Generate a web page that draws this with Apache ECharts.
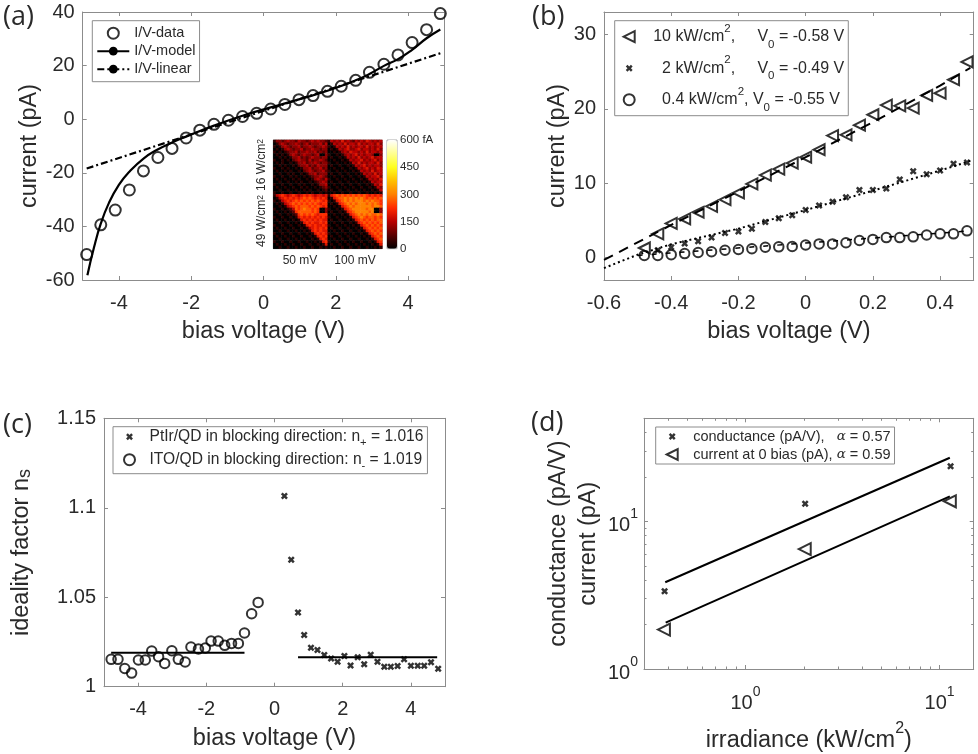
<!DOCTYPE html>
<html><head><meta charset="utf-8">
<style>html,body{margin:0;padding:0;background:#fff}#c{width:978px;height:754px}</style>
<script src="https://cdn.jsdelivr.net/npm/echarts@6/dist/echarts.min.js"></script>
</head><body><div id="c"></div>
<script>
// ---------- panel (a) ----------
const aDataV=[-4.89,-4.50,-4.10,-3.71,-3.32,-2.92,-2.53,-2.14,-1.76,-1.37,-0.97,-0.58,-0.19,0.20,0.59,0.98,1.37,1.77,2.15,2.55,2.93,3.33,3.72,4.11,4.51,4.89];
const aDataI=[-50.5,-39.4,-33.9,-26.4,-19.3,-14.3,-10.9,-7.0,-4.1,-1.9,-0.4,1.0,2.2,3.8,5.5,7.3,8.8,10.4,12.3,14.5,17.5,20.5,24.0,28.6,33.4,39.4];
const aModelV=[-4.87,-4.69,-4.50,-4.28,-4.0,-3.71,-3.31,-2.94,-2.53,-2.14,-1.37,-0.58,0.2,0.98,1.77,2.55,2.93,3.33,3.72,4.11,4.51,4.89];
const aModelI=[-58.2,-48,-39,-31.4,-24.5,-19.6,-14.6,-11.4,-8.7,-6.5,-2.4,1.3,4.4,7.4,10.6,14.5,16.9,19.9,22.4,25.9,30.2,33.5];
const aLinearV=[-4.89,4.89];
const aLinearI=[-18.4,24.6];
// ---------- inset of (a): levels of photocurrent, one char per cell ----------
const levelStep=38;
const insetTL=["13323433243323434332","01343233432342333424","10134323342334323343","01013432334233433233","10101233423343342323","01010134323433234003","00101013342323433233","10010102343324233432","01010010133423343233","00101001023342324333","10010100101334233423","01001010010234323342","00100101001013342333","10010010100101233432","01001001010010134324","00100100101001012343","10010010010100101334","01001001001010010123","00100100100101001012","10010010010010100101"];
const insetTR=["14343534324343543434","01434353443534344353","10143435343443534344","01014345334534434353","00101343544343534434","10010134345343443003","01001014343534345344","00100101434453434534","10010010143534344353","01001001014345343443","00100100101434534354","10010010010143435344","01001001001014343534","00100100100101434453","10010010010010143435","01001001001001014344","00100100100100101435","10010010010010010143","01001001001001001014","00100100100100100101"];
const insetBL=["14565456545656545545","01456565656767656565","10145656767676767656","01014567676767676566","00101456767776767656","10010124767877676003","01001012677777676003","00100101267676765666","10010010156565656565","01001001015656565655","00100100101565655656","10010010010156565565","01001001001014565656","00100100100101565655","10010010010010156565","01001001001001015656","00100100100100101565","10010010010010010156","01001001001001001015","00100100100100100101"];
const insetBR=["15676767676767656565","01567787878787676767","10156787878887878776","01015678787888787876","00101567878888887887","10010156788888788003","01001015678888878003","00100101567878787787","10010010156787677676","01001001015676767677","00100100101567676767","10010010010156767676","01001001001015676767","00100100100101567676","10010010010010156767","01001001001001015676","00100100100100101567","10010010010010010156","01001001001001001015","00100100100100100101"];
const barTicks=['600 fA','450','300','150','0'];
// ---------- panel (b) ----------
const bV=[-0.48,-0.44,-0.40,-0.36,-0.32,-0.28,-0.24,-0.20,-0.16,-0.12,-0.08,-0.04,0,0.04,0.08,0.12,0.16,0.20,0.24,0.28,0.32,0.36,0.40,0.44,0.48];
const b10=[1.3,3.2,4.6,5.2,6.1,6.9,7.8,8.7,9.9,11.1,11.9,12.7,13.5,14.5,16.4,16.5,17.8,19.2,20.5,20.4,20.1,21.8,22.1,23.9,26.3];
const b2=[0.7,1.0,1.4,1.9,2.2,2.7,3.3,3.5,3.9,4.8,5.3,5.7,6.4,7.0,7.5,8.1,9.1,9.1,9.3,10.5,11.6,11.2,11.7,12.6,12.8];
const b04=[0.3,0.3,0.4,0.55,0.7,0.8,1.0,1.1,1.2,1.4,1.45,1.5,1.7,1.85,1.85,2.0,2.3,2.45,2.7,2.7,2.8,3.05,3.2,3.2,3.6];
const bFit10V=[-0.6,-0.4,-0.2,0,0.2,0.4,0.49];
const bFit10I=[-0.3,4.4,8.9,13.5,18.2,23.1,25.5];
const bFit2V=[-0.6,-0.5,-0.4,-0.2,0,0.2,0.4,0.49];
const bFit2I=[-1.4,0.4,1.8,3.9,6.4,9,11.7,13];
const bFit04V=[-0.5,0.49];
const bFit04I=[0.3,3.6];
// ---------- panel (c) ----------
const cNegV=[-4.79,-4.59,-4.39,-4.19,-3.99,-3.79,-3.6,-3.40,-3.22,-3.01,-2.82,-2.62,-2.45,-2.23,-2.03,-1.86,-1.65,-1.46,-1.26,-1.06,-0.88,-0.67,-0.48];
const cNegN=[1.0153,1.0153,1.0102,1.0076,1.0149,1.0149,1.0199,1.0168,1.0130,1.0201,1.0153,1.0138,1.0222,1.0211,1.0216,1.0255,1.0255,1.0231,1.0242,1.0242,1.0300,1.0408,1.0471];
const cPosV=[0.29,0.49,0.69,0.87,1.07,1.26,1.46,1.66,1.85,2.05,2.23,2.44,2.63,2.82,3.02,3.22,3.41,3.61,3.80,4.0,4.2,4.39,4.59,4.8];
const cPosN=[1.1066,1.071,1.0415,1.0289,1.0218,1.0205,1.0177,1.0158,1.014,1.0171,1.0119,1.0164,1.0125,1.0179,1.014,1.0112,1.0112,1.0115,1.0153,1.0117,1.0117,1.0117,1.0136,1.0101];
const cNegFitV=[-4.79,-0.88], cNegFitN=[1.019,1.019];
const cPosFitV=[0.69,4.77], cPosFitN=[1.0164,1.0164];
// ---------- panel (d) ----------
const dIrr=[0.383,2.03,11.4];
const dCond=[3.37,13.2,23.7];
const dIrrT=[0.38,2.02,11.3];
const dCurr=[1.85,6.5,13.7];
const dFit1X=[0.386,11.3], dFit1Y=[3.87,27];
const dFit2X=[0.388,11.3], dFit2Y=[2.06,14.8];

// ---------- helpers ----------
const zip=(a,b)=>a.map((v,i)=>[v,b[i]]);
const FONT='"Liberation Sans",Arial,sans-serif';
const INK='#2a2a2a', FRAME='#8c8c8c';
const CROSS='path://M0,2.5 L2.5,0 L5,2.5 L7.5,0 L10,2.5 L7.5,5 L10,7.5 L7.5,10 L5,7.5 L2.5,10 L0,7.5 L2.5,5 Z';
const TRI='path://M0,5 L10,0 L10,10 Z';
// legend icons: padded so that the icon is drawn smaller than the legend box
const CROSS_ICON='path://M-3,-3 L-3,-3 Z M13,13 L13,13 Z M0,2.5 L2.5,0 L5,2.5 L7.5,0 L10,2.5 L7.5,5 L10,7.5 L7.5,10 L5,7.5 L2.5,10 L0,7.5 L2.5,5 Z';
const circle=(xa,ya,name,data,size)=>({type:'scatter',name,xAxisIndex:xa,yAxisIndex:ya,data,symbol:'circle',symbolSize:size,
  itemStyle:{color:'rgba(0,0,0,0)',borderColor:'#000',borderWidth:2},z:4});
const tri=(xa,ya,name,data,size)=>({type:'scatter',name,xAxisIndex:xa,yAxisIndex:ya,data,symbol:TRI,symbolSize:size,
  itemStyle:{color:'rgba(0,0,0,0)',borderColor:'#000',borderWidth:2},z:4});
const cross=(xa,ya,name,data,size)=>({type:'scatter',name,xAxisIndex:xa,yAxisIndex:ya,data,symbol:CROSS,symbolSize:size,
  itemStyle:{color:'#000'},z:4});
const line=(xa,ya,name,data,type,width,smooth)=>({type:'line',name,xAxisIndex:xa,yAxisIndex:ya,data,symbol:'none',showSymbol:false,smooth:!!smooth,
  lineStyle:{color:'#000',width:width||2,type:type||'solid'},itemStyle:{color:'#000'},z:3});

const grids=[], xAxes=[], yAxes=[];
function panel(g,x,y){
  const k=grids.length; grids.push(g);
  const base={axisLine:{show:true,onZero:false,lineStyle:{color:FRAME,width:1}},splitLine:{show:false},
    axisTick:{inside:true,length:4,lineStyle:{color:FRAME}}};
  const labels={fontFamily:FONT,fontSize:20,color:INK};
  const title={fontFamily:FONT,fontSize:23.5,color:INK};
  const xi=xAxes.length, yi=yAxes.length;
  xAxes.push(Object.assign({},base,x,{gridIndex:k,position:'bottom',nameLocation:'middle',nameGap:x.nameGap,nameTextStyle:Object.assign({},title,x.nameTextStyle),
    axisLabel:Object.assign({margin:13},labels,x.axisLabel)}));
  xAxes.push(Object.assign({},base,x,{gridIndex:k,position:'top',name:'',axisLabel:{show:false},minorTick:Object.assign({},x.minorTick)}));
  yAxes.push(Object.assign({},base,y,{gridIndex:k,position:'left',nameLocation:'middle',nameGap:y.nameGap,nameTextStyle:Object.assign({},title,y.nameTextStyle),
    axisLabel:Object.assign({margin:8},labels,y.axisLabel)}));
  yAxes.push(Object.assign({},base,y,{gridIndex:k,position:'right',name:'',axisLabel:{show:false},minorTick:Object.assign({},y.minorTick)}));
  return [xi,yi];
}
const logLabel=v=>{const p=Math.log10(v);return Math.abs(p-Math.round(p))<1e-6?`{b|10}{p|${Math.round(p)}}`:'';};
const logRich={b:{fontFamily:FONT,fontSize:20,color:INK,lineHeight:28,verticalAlign:'bottom'},p:{fontFamily:FONT,fontSize:14,color:INK,lineHeight:14,verticalAlign:'top'}};
const minor={show:true,splitNumber:9,length:2.5,lineStyle:{color:FRAME}};
const ticksAt=vals=>({inside:true,length:4,lineStyle:{color:FRAME},customValues:vals});

const [ax,ay]=panel({left:82.7,top:12,width:361.6,height:268},
  {type:'value',min:-5,max:5,name:'bias voltage (V)',nameGap:40,axisLabel:{customValues:[-4,-2,0,2,4]},axisTick:ticksAt([-4,-2,0,2,4])},
  {type:'value',min:-60,max:40,interval:20,name:'current (pA)',nameGap:40});
const [bx,by]=panel({left:604,top:12,width:369.7,height:268},
  {type:'value',min:-0.6,max:0.5,name:'bias voltage (V)',nameGap:40,axisLabel:{customValues:[-0.6,-0.4,-0.2,0,0.2,0.4]},axisTick:ticksAt([-0.6,-0.4,-0.2,0,0.2,0.4])},
  {type:'value',min:-3,max:33,name:'current (pA)',nameGap:33,axisLabel:{customValues:[0,10,20,30]},axisTick:ticksAt([0,10,20,30])});
const [cx,cy]=panel({left:104,top:418.3,width:341,height:268.4},
  {type:'value',min:-5,max:5,name:'bias voltage (V)',nameGap:40,axisLabel:{customValues:[-4,-2,0,2,4]},axisTick:ticksAt([-4,-2,0,2,4])},
  {type:'value',min:1,max:1.15,interval:0.05,name:'{m|ideality factor n}{s|s}',nameGap:70,
   nameTextStyle:{rich:{m:{fontFamily:FONT,fontSize:23.5,color:INK,lineHeight:38,verticalAlign:'bottom'},s:{fontFamily:FONT,fontSize:18,color:INK,lineHeight:18,verticalAlign:'bottom'}}},
   axisLabel:{formatter:v=>String(+v.toFixed(2))}});
const [dx,dy]=panel({left:644,top:418.3,width:329.7,height:255},
  {type:'log',logBase:10,min:0.3,max:15,name:'{m|irradiance (kW/cm}{p|2}{m|)}',nameGap:52,
   nameTextStyle:{rich:{m:{fontFamily:FONT,fontSize:23.5,color:INK,lineHeight:32,verticalAlign:'bottom'},p:{fontFamily:FONT,fontSize:16,color:INK,lineHeight:16,verticalAlign:'top'}}},
   minorTick:minor,axisLabel:{formatter:logLabel,rich:logRich,margin:16}},
  {type:'log',logBase:10,min:1,max:50,name:'conductance (pA/V)\ncurrent (pA)',nameGap:40,minorTick:minor,
   nameTextStyle:{lineHeight:30},axisLabel:{formatter:logLabel,rich:logRich,margin:6}});

// inset heat map grid
const instGrid=grids.length;
grids.push({left:273.3,top:140,width:109,height:108.7,show:true,borderColor:'#999',borderWidth:1,z:5});
const idxs=Array.from({length:40},(_,i)=>i);
const hx=xAxes.length, hy=yAxes.length;
xAxes.push({type:'category',gridIndex:instGrid,data:idxs,show:false,z:5});
yAxes.push({type:'category',gridIndex:instGrid,data:idxs,inverse:true,show:false,z:5});
const heat=[];
const putPanel=(rows,c0,r0)=>rows.forEach((row,r)=>[...row].forEach((d,c)=>heat.push([c0+c,r0+r,(+d)*levelStep])));
putPanel(insetTL,0,0);putPanel(insetTR,20,0);putPanel(insetBL,0,20);putPanel(insetBR,20,20);

// colour bar axis
const barGrid=grids.length;
grids.push({left:387,top:140,width:10,height:108.7,show:true,borderColor:'#aaa',borderWidth:1,z:5});
const bbx=xAxes.length, bby=yAxes.length;
xAxes.push({type:'value',gridIndex:barGrid,show:false,min:0,max:1});
yAxes.push({type:'value',gridIndex:barGrid,position:'right',min:0,max:600,interval:150,axisLine:{show:false},axisTick:{show:false},splitLine:{show:false},
  axisLabel:{fontFamily:FONT,fontSize:11.5,color:INK,margin:3,inside:false,formatter:v=>barTicks[(600-v)/150]}});

const series=[
  circle(ax,ay,'I/V-data',zip(aDataV,aDataI),11),
  line(ax,ay,'I/V-model',zip(aModelV,aModelI),'solid',2.2,true),
  line(ax,ay,'I/V-linear',zip(aLinearV,aLinearI),[7,3,2,3],2.2),
  tri(bx,by,'b10',zip(bV,b10),11),
  cross(bx,by,'b2',zip(bV.slice(1),b2.slice(1)),7),
  circle(bx,by,'b04',zip(bV,b04),9.5),
  line(bx,by,'fit10',zip(bFit10V,bFit10I),[10,7],2),
  line(bx,by,'fit2',zip(bFit2V,bFit2I),[2,3],2),
  line(bx,by,'fit04',zip(bFit04V,bFit04I),[5,9],1.5),
  cross(cx,cy,'cPos',zip(cPosV,cPosN),7),
  circle(cx,cy,'cNeg',zip(cNegV,cNegN),9.5),
  line(cx,cy,'fitNeg',zip(cNegFitV,cNegFitN),'solid',2),
  line(cx,cy,'fitPos',zip(cPosFitV,cPosFitN),'solid',2),
  cross(dx,dy,'dCond',zip(dIrr,dCond),7),
  tri(dx,dy,'dCurr',zip(dIrrT,dCurr),12),
  line(dx,dy,'fitCond',zip(dFit1X,dFit1Y),'solid',2),
  line(dx,dy,'fitCurr',zip(dFit2X,dFit2Y),'solid',2),
  {type:'heatmap',name:'inset',xAxisIndex:hx,yAxisIndex:hy,data:heat,z:6,itemStyle:{borderWidth:0},emphasis:{disabled:true}}
];
const heatIndex=series.length-1;

const richFor=(size,lh,extra)=>({
  a:{fontFamily:FONT,fontSize:size,color:INK,lineHeight:lh,verticalAlign:'middle'},
  p:{fontFamily:FONT,fontSize:size*0.72,color:INK,lineHeight:12,verticalAlign:'top'},
  u:{fontFamily:FONT,fontSize:size*0.72,color:INK,lineHeight:12,verticalAlign:'bottom'},
  g:{fontFamily:'"DejaVu Serif",serif',fontStyle:'italic',fontSize:size-1,color:INK,lineHeight:lh,verticalAlign:'middle'},
  i:{fontSize:size,lineHeight:lh,width:extra||0}
});
const legendText={
  b10:'{i| }{a|10 kW/cm}{p|2}{a|,     V}{u|0}{a| = -0.58 V}',
  b2:'{i| }{a|  2 kW/cm}{p|2}{a|,     V}{u|0}{a| = -0.49 V}',
  b04:'{i| }{a|  0.4 kW/cm}{p|2}{a|, V}{u|0}{a| = -0.55 V}',
  cPos:'{i| }{a|PtIr/QD in blocking direction: n}{u|+}{a| = 1.016}',
  cNeg:'{i| }{a|ITO/QD in blocking direction: n}{u|-}{a| = 1.019}',
  dCond:'{i| }{a|conductance (pA/V),   }{g|α}{a| = 0.57}',
  dCurr:'{i| }{a|current at 0 bias (pA), }{g|α}{a| = 0.59}'
};
const legendBase=(left,top,data,iw,gap,pad,fontSize,rich)=>({show:true,orient:'vertical',left,top,data,selectedMode:false,align:'left',
  itemWidth:iw,itemHeight:11,itemGap:gap,padding:pad,backgroundColor:'#fff',borderColor:FRAME,borderWidth:1,
  textStyle:{fontFamily:FONT,fontSize,color:INK,rich},formatter:n=>legendText[n]||n,z:7});

const labelTxt=(left,top,text)=>({type:'text',left,top,z:8,style:{text,fontFamily:'"Open Sans",sans-serif',fontSize:27,fill:INK}});
const rotLabel=(x,y,text)=>({type:'text',x,y,rotation:Math.PI/2,z:8,style:{text,align:'center',verticalAlign:'middle',fontFamily:FONT,fontSize:12,fill:INK,
   rich:{a:{fontFamily:FONT,fontSize:12,color:INK},p:{fontFamily:FONT,fontSize:8.5,color:INK,verticalAlign:'top'}}}});
const insetTxt=(x,y,text)=>({type:'text',x,y,z:8,style:{text,align:'center',verticalAlign:'middle',fontFamily:FONT,fontSize:12,fill:INK}});

const option={
  animation:false,backgroundColor:'#fff',
  grid:grids,xAxis:xAxes,yAxis:yAxes,series,
  legend:[
    legendBase(92.3,20.7,['I/V-data',{name:'I/V-model',icon:'inherit'},{name:'I/V-linear',icon:'inherit'}],32,3,[5,4,5,4],14.5),
    legendBase(614.7,20.7,['b10',{name:'b2',icon:CROSS_ICON},'b04'],20,3.5,[2,4,2,8],16,richFor(16,28,9)),
    legendBase(113,426.7,[{name:'cPos',icon:CROSS_ICON},'cNeg'],20,3,[2,4,2,10],15.6,richFor(15.6,24,5)),
    legendBase(655.7,427,[{name:'dCond',icon:CROSS_ICON},'dCurr'],20,3,[2,4,2,10],14.5,richFor(14.5,16,6))
  ],
  visualMap:{type:'continuous',seriesIndex:heatIndex,min:0,max:600,left:387,top:140,itemWidth:10,itemHeight:108.7,padding:0,
    calculable:false,realtime:false,hoverLink:false,
    inRange:{color:['#000000','#5a0000','#b80000','#ff2a00','#ff8000','#ffc000','#ffff20','#ffff90','#ffffff']},z:6},
  graphic:[
    labelTxt(3,4,'(a)'),labelTxt(532,4,'(b)'),labelTxt(3,412,'(c)'),labelTxt(531,410,'(d)'),
    insetTxt(300,260.7,'50 mV'),insetTxt(355,260.7,'100 mV'),
    rotLabel(262,165,'{a|16 W/cm}{p|2}'),rotLabel(262,221,'{a|49 W/cm}{p|2}')
  ]
};
const chart=echarts.init(document.getElementById('c'),null,{renderer:'canvas'});
chart.setOption(option);
</script></body></html>
